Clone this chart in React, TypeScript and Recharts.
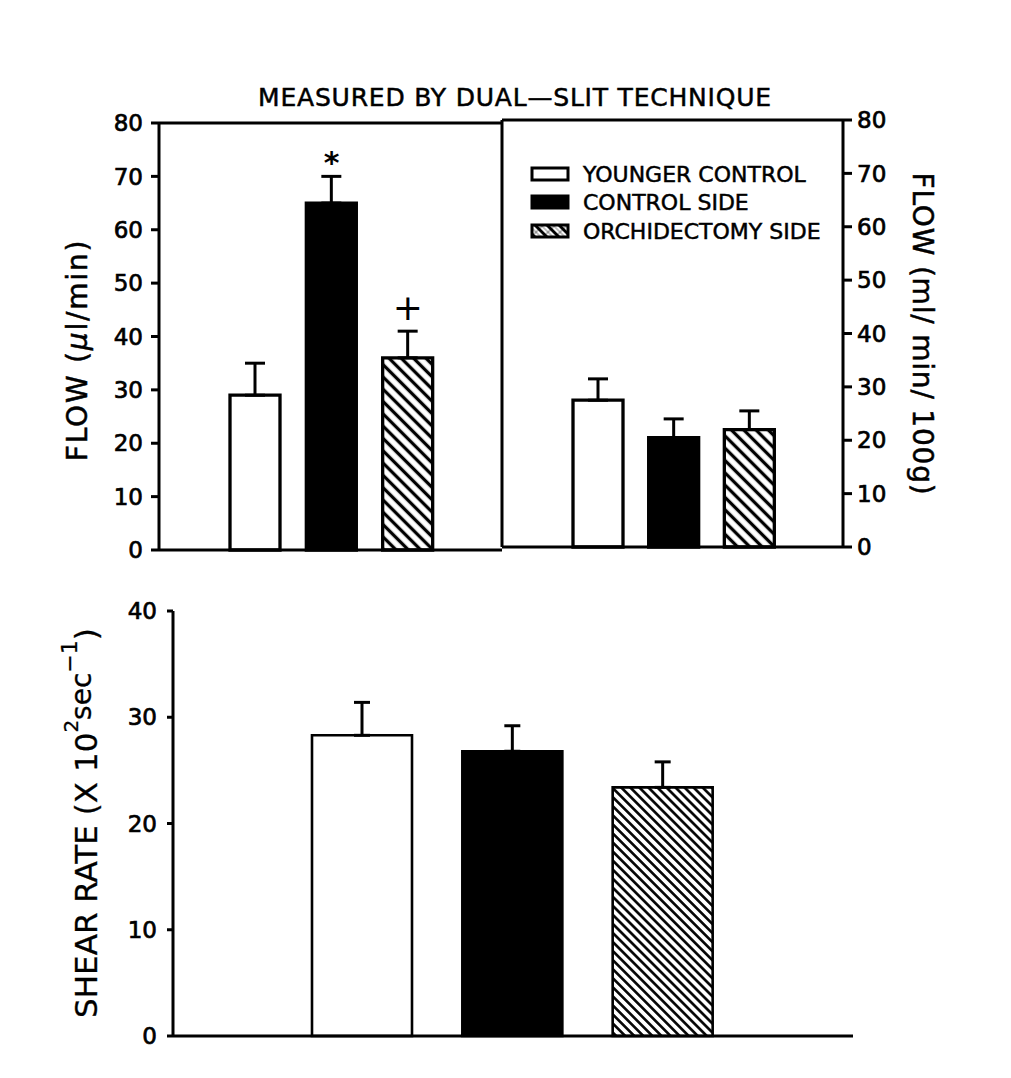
import React from "react";
import { BarChart, Bar, XAxis, YAxis, Cell, ErrorBar, ReferenceDot } from "recharts";

// groups (legend order) and values
const groups = ["YOUNGER CONTROL", "CONTROL SIDE", "ORCHIDECTOMY SIDE"];
const flowUlMean = [29, 65, 36];
const flowUlSem = [6, 5, 5];
const flowUlMarks = ["", "*", "+"];
const flowMlMean = [27.5, 20.5, 22];
const flowMlSem = [4, 3.5, 3.5];
const shearMean = [28.3, 26.8, 23.4];
const shearSem = [3.1, 2.4, 2.4];
const flowTicks = [0, 10, 20, 30, 40, 50, 60, 70, 80];
const shearTicks = [0, 10, 20, 30, 40];

const FONT = "'DejaVu Sans', sans-serif";
const INK = "#000";

const toRows = (mean: number[], sem: number[]) =>
  groups.map((group, i) => ({ group, mean: mean[i], err: [0, sem[i]] }));

const flowUlRows = toRows(flowUlMean, flowUlSem);
const flowMlRows = toRows(flowMlMean, flowMlSem);
const shearRows = toRows(shearMean, shearSem);

const fillsFor = (hatchId: string) => ["#fff", INK, `url(#${hatchId})`];

const line3 = { stroke: INK, strokeWidth: 3 };
const tickText = { fill: INK, fontSize: 23, fontFamily: FONT, stroke: INK, strokeWidth: 0.7 };

function hatchDef(id: string, gap: number, w: number) {
  return (
    <defs>
      <pattern id={id} width={gap} height={gap} patternUnits="userSpaceOnUse" patternTransform="rotate(-45)">
        <rect width={gap} height={gap} fill="#fff" />
        <line x1={gap / 2} y1={0} x2={gap / 2} y2={gap} stroke={INK} strokeWidth={w} />
      </pattern>
    </defs>
  );
}

function MarkGlyph({ cx, cy, mark }: { cx: number; cy: number; mark: string }) {
  if (mark === "*") {
    return (
      <text x={cx} y={cy - 3} textAnchor="middle" fontSize={30} fontWeight="bold" fontFamily={FONT} fill={INK}>
        *
      </text>
    );
  }
  return (
    <text x={cx} y={cy - 11} textAnchor="middle" fontSize={36} fontFamily={FONT} fill={INK}>
      {mark}
    </text>
  );
}

function Overlay() {
  const rowsY = [8, 36, 65];
  return (
    <svg
      width={1011}
      height={1078}
      style={{ position: "absolute", left: 0, top: 0, pointerEvents: "none" }}
      fontFamily={FONT}
      fill={INK}
      stroke={INK}
      strokeWidth={0.5}
    >
      {hatchDef("hatchLegend", 8.5, 3)}
      <text x={515} y={106} textAnchor="middle" fontSize={25} letterSpacing={0.8}>
        MEASURED BY DUAL—SLIT TECHNIQUE
      </text>
      <text transform="translate(87,350) rotate(-90)" textAnchor="middle" fontSize={28} letterSpacing={1.8}>
        FLOW (<tspan fontStyle="italic">μ</tspan>l/min)
      </text>
      <text transform="translate(913,334) rotate(90)" textAnchor="middle" fontSize={28} letterSpacing={0.8}>
        FLOW (ml/ min/ 100g)
      </text>
      <text transform="translate(97,823) rotate(-90)" textAnchor="middle" fontSize={31} strokeWidth={0.3}>
        SHEAR RATE (X 10
        <tspan fontSize={20} dy={-19}>2</tspan>
        <tspan fontSize={28} dy={13}>sec</tspan>
        <tspan fontSize={22} dy={-14}>−1</tspan>
        <tspan dy={20}>)</tspan>
      </text>
      <g transform="translate(524,160)">
        {groups.map((g, i) => (
          <g key={g}>
            <rect x={8} y={rowsY[i]} width={36} height={12} fill={fillsFor("hatchLegend")[i]} stroke={INK} strokeWidth={3} />
            <text x={59} y={rowsY[i] + 14} fontSize={22}>
              {g}
            </text>
          </g>
        ))}
      </g>
    </svg>
  );
}

function FlowUlPanel() {
  const fills = fillsFor("hatchTopL");
  return (
    <BarChart width={1011} height={600} data={flowUlRows} margin={{ top: 122, right: 509, bottom: 49, left: 0 }}>
      {hatchDef("hatchTopL", 8.7, 3.3)}
      <XAxis dataKey="group" height={1} tick={false} tickLine={false} axisLine={line3} padding={{ left: 58, right: 56 }} />
      <XAxis xAxisId="top" dataKey="group" orientation="top" height={1} tick={false} tickLine={false} axisLine={line3} />
      <YAxis
        width={159}
        domain={[0, 80]}
        ticks={flowTicks}
        interval={0}
        tickSize={8}
        tickMargin={8}
        tick={tickText}
        axisLine={line3}
        tickLine={line3}
      />
      <Bar dataKey="mean" barSize={50} stroke={INK} strokeWidth={3.3} isAnimationActive={false}>
        {flowUlRows.map((r, i) => (
          <Cell key={r.group} fill={fills[i]} />
        ))}
        <ErrorBar dataKey="err" direction="y" width={10} stroke={INK} strokeWidth={3} isAnimationActive={false} />
      </Bar>
      {groups.map((g, i) =>
        flowUlMarks[i] ? (
          <ReferenceDot
            key={g}
            x={g}
            y={flowUlMean[i] + flowUlSem[i]}
            r={0}
            ifOverflow="visible"
            shape={(p: any) => <MarkGlyph cx={p.cx} cy={p.cy} mark={flowUlMarks[i]} />}
          />
        ) : null
      )}
    </BarChart>
  );
}

function FlowMlPanel() {
  const fills = fillsFor("hatchTopR");
  return (
    <BarChart width={1011} height={600} data={flowMlRows} margin={{ top: 119, right: 0, bottom: 52, left: 0 }}>
      {hatchDef("hatchTopR", 8.7, 3.3)}
      <XAxis dataKey="group" height={1} tick={false} tickLine={false} axisLine={line3} padding={{ left: 58, right: 56 }} />
      <XAxis xAxisId="top" dataKey="group" orientation="top" height={1} tick={false} tickLine={false} axisLine={line3} />
      <YAxis yAxisId="divider" width={502} domain={[0, 80]} tick={false} tickLine={false} axisLine={line3} />
      <YAxis
        yAxisId="flow"
        orientation="right"
        width={168}
        domain={[0, 80]}
        ticks={flowTicks}
        interval={0}
        tickSize={9}
        tickMargin={5}
        tick={tickText}
        axisLine={line3}
        tickLine={line3}
      />
      <Bar yAxisId="flow" dataKey="mean" barSize={50} stroke={INK} strokeWidth={3.3} isAnimationActive={false}>
        {flowMlRows.map((r, i) => (
          <Cell key={r.group} fill={fills[i]} />
        ))}
        <ErrorBar dataKey="err" direction="y" width={10} stroke={INK} strokeWidth={3} isAnimationActive={false} />
      </Bar>
    </BarChart>
  );
}

function ShearPanel() {
  const fills = fillsFor("hatchBottom");
  return (
    <BarChart width={1011} height={500} data={shearRows} margin={{ top: 51, right: 158, bottom: 23, left: 0 }}>
      {hatchDef("hatchBottom", 6.4, 2.6)}
      <XAxis dataKey="group" height={1} tick={false} tickLine={false} axisLine={line3} padding={{ left: 114, right: 115 }} />
      <YAxis
        width={173}
        domain={[0, 40]}
        ticks={shearTicks}
        interval={0}
        tickSize={6}
        tickMargin={10}
        tick={tickText}
        axisLine={line3}
        tickLine={line3}
      />
      <Bar dataKey="mean" barSize={100} stroke={INK} strokeWidth={2.6} isAnimationActive={false}>
        {shearRows.map((r, i) => (
          <Cell key={r.group} fill={fills[i]} />
        ))}
        <ErrorBar dataKey="err" direction="y" width={8} stroke={INK} strokeWidth={3} isAnimationActive={false} />
      </Bar>
    </BarChart>
  );
}

export default function App() {
  return (
    <div style={{ position: "relative", width: 1011, height: 1078, background: "#fff", fontFamily: FONT }}>
      <style>{"body{margin:0;background:#fff}"}</style>
      <div style={{ position: "absolute", left: 0, top: 0 }}>
        <FlowUlPanel />
      </div>
      <div style={{ position: "absolute", left: 0, top: 0 }}>
        <FlowMlPanel />
      </div>
      <div style={{ position: "absolute", left: 0, top: 560 }}>
        <ShearPanel />
      </div>
      <Overlay />
    </div>
  );
}
